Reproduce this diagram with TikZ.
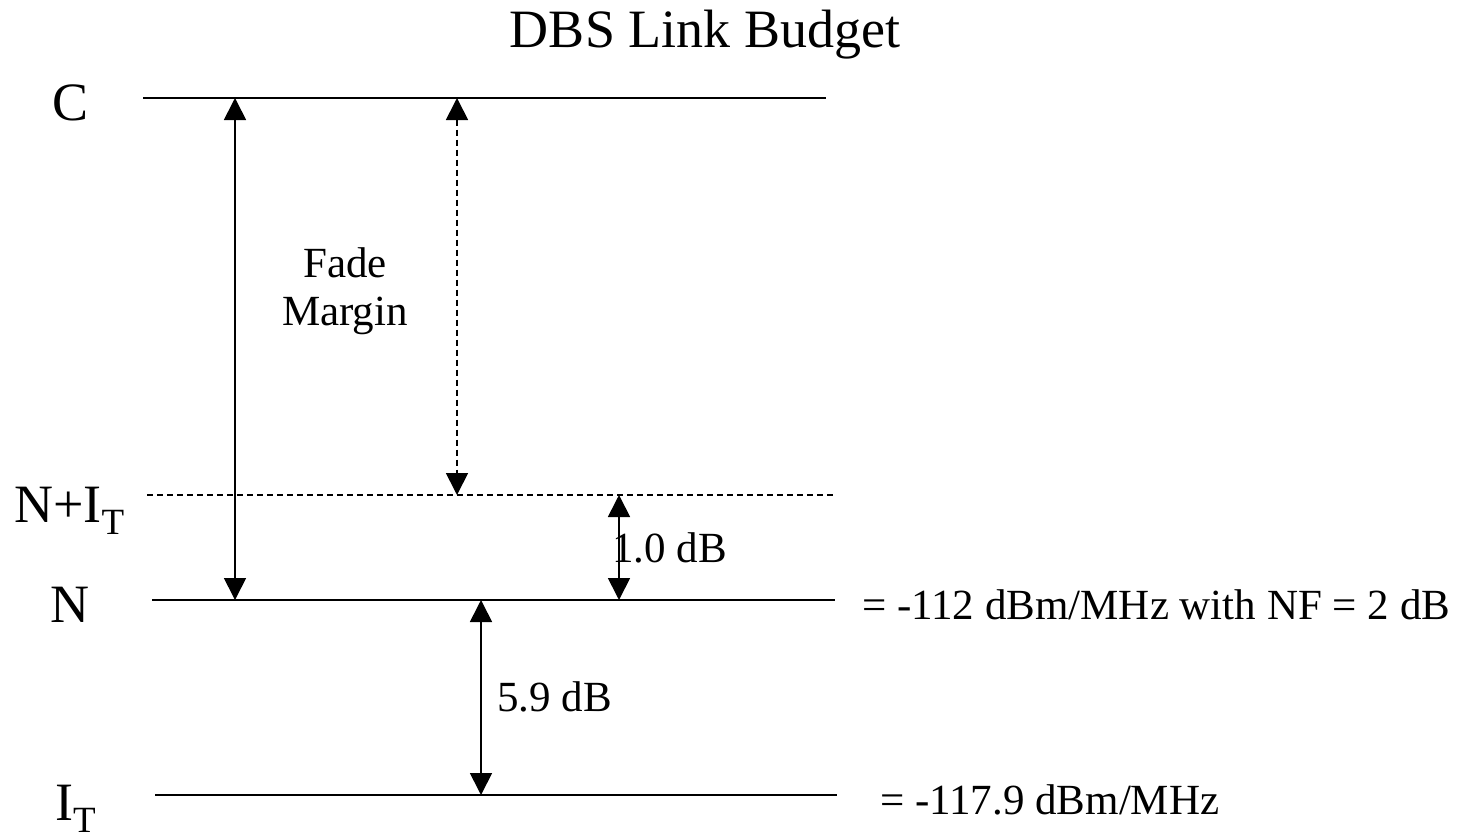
\documentclass[tikz,border=0pt]{standalone}
\usepackage{fontspec}
\setmainfont{Liberation Serif}
\usetikzlibrary{arrows.meta}
\newcommand{\subT}{\raisebox{-12pt}{\fontsize{37}{37}\selectfont T}}
\begin{document}
\begin{tikzpicture}[x=1pt,y=-1pt,
  level/.style={line width=2pt},
  dimarrow/.style={line width=1.7pt,{Triangle[width=22pt,length=22pt]}-{Triangle[width=22pt,length=22pt]}},
  biglabel/.style={inner sep=0pt,font=\fontsize{54}{60}\selectfont},
  txt/.style={inner sep=0pt,font=\fontsize{43}{50}\selectfont},
  dashpat/.style={dash pattern=on 6pt off 4pt}]
\useasboundingbox (0,0) rectangle (1471,838);
\fill[white] (0,0) rectangle (1471,838);
% title
\node[biglabel,anchor=base] (title) at (705,47) {DBS Link Budget};
% level line ends
\coordinate (c1) at (143,98);  \coordinate (c2) at (826,98);
\coordinate (ni1) at (147,495); \coordinate (ni2) at (836,495);
\coordinate (n1) at (152,600); \coordinate (n2) at (835,600);
\coordinate (i1) at (155,795); \coordinate (i2) at (837,795);
\draw[level] (c1) -- (c2);
\draw[level,dashpat,line width=1.5pt] (ni1) -- (ni2);
\draw[level] (n1) -- (n2);
\draw[level] (i1) -- (i2);
% arrow anchor points
\coordinate (a1t) at (235,98);  \coordinate (a1b) at (235,600);
\coordinate (a2t) at (457,98);  \coordinate (a2b) at (457,495);
\coordinate (a3t) at (619,495); \coordinate (a3b) at (619,600);
\coordinate (a4t) at (481,600); \coordinate (a4b) at (481,795);
\draw[dimarrow] (a1t) -- (a1b);
\draw[dimarrow,dashpat] (a2t) -- (a2b);
\draw[dimarrow] (a3t) -- (a3b);
\draw[dimarrow] (a4t) -- (a4b);
% level labels
\node[biglabel,anchor=base west] (lc) at (52,120) {C};
\node[biglabel,anchor=base west] (lni) at (14,522) {N+I\subT};
\node[biglabel,anchor=base west] (ln) at (50,622) {N};
\node[biglabel,anchor=base west] (li) at (55,820) {I\subT};
% other labels
\node[txt,anchor=base] (fade1) at (345,277) {Fade};
\node[txt,anchor=base] (fade2) at (345,325) {Margin};
\node[txt,anchor=base west] (db1) at (612,562) {1.0 dB};
\node[txt,anchor=base west] (db59) at (497,711) {5.9 dB};
\node[txt,anchor=base west] (eqn) at (862,619) {= -112 dBm/MHz with NF = 2 dB};
\node[txt,anchor=base west] (eqi) at (880,814) {= -117.9 dBm/MHz};
\end{tikzpicture}
\end{document}
